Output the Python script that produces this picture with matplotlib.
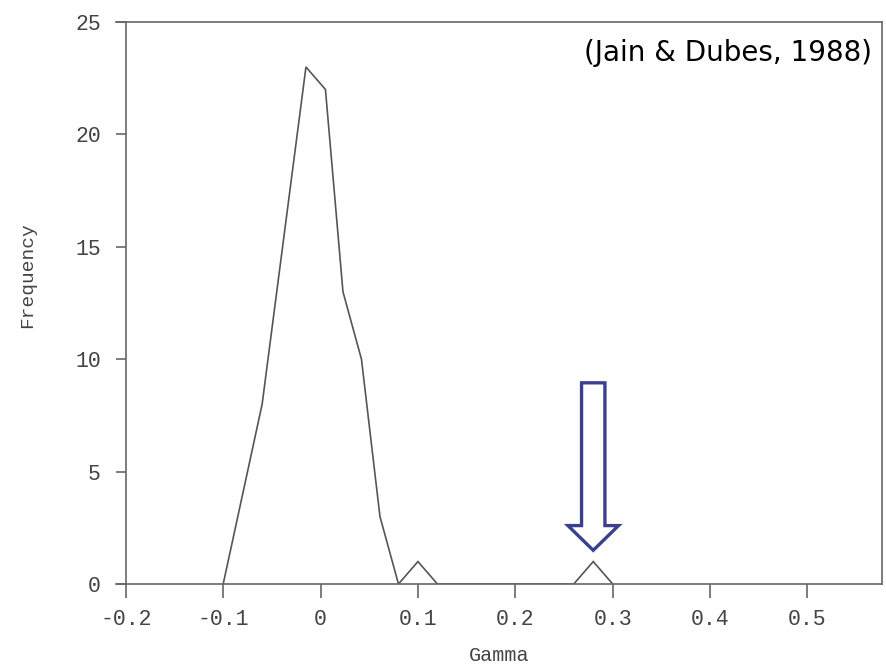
import matplotlib.pyplot as plt
import matplotlib.patches as mpatches

# Frequency polygon of the Gamma statistic
gamma = [-0.10, -0.06, -0.015, 0.005, 0.023, 0.042, 0.061, 0.08, 0.10, 0.12, 0.26, 0.28, 0.30]
freq = [0, 8, 23, 22, 13, 10, 3, 0, 1, 0, 0, 1, 0]

x_ticks = [-0.2, -0.1, 0, 0.1, 0.2, 0.3, 0.4, 0.5]
x_tick_labels = ['-0.2', '-0.1', '0', '0.1', '0.2', '0.3', '0.4', '0.5']
y_ticks = [0, 5, 10, 15, 20, 25]

citation = '(Jain & Dubes, 1988)'
marked_index = 11  # the isolated value the arrow points at

mono = 'Liberation Mono'
ink = '#444444'

fig = plt.figure(figsize=(8.86, 6.67), dpi=100)
ax = fig.add_axes([0.131, 0.1244, 0.865, 0.8426])

ax.plot(gamma, freq, color='#555555', lw=1.2, solid_joinstyle='miter')

ax.set_xlim(-0.21, 0.577)
ax.set_ylim(0, 25)
ax.spines['left'].set_position(('data', -0.2))
for side in ['left', 'right', 'top', 'bottom']:
    ax.spines[side].set_color('#666666')
    ax.spines[side].set_linewidth(1.2)

ax.set_xticks(x_ticks)
ax.set_xticklabels(x_tick_labels, fontfamily=mono, fontsize=15.5, color=ink)
ax.set_yticks(y_ticks)
ax.set_yticklabels([str(v) for v in y_ticks], fontfamily=mono, fontsize=15.5, color=ink)
ax.tick_params(axis='x', direction='out', length=10, width=1.2, color='#666666', pad=8)
ax.tick_params(axis='y', direction='out', length=7, width=1.2, color='#666666', pad=11)

ax.set_xlabel('Gamma', fontfamily=mono, fontsize=14.5, color=ink)
ax.xaxis.set_label_coords(0.5, -0.11)
ax.set_ylabel('Frequency', fontfamily=mono, fontsize=14, color=ink)
ax.yaxis.set_label_coords(-0.104, 0.55)

ax.text(0.987, 0.945, citation, transform=ax.transAxes, ha='right', va='center',
        fontsize=20, fontfamily='DejaVu Sans', color='black')

# hollow arrow pointing down at the isolated peak
tip_x = gamma[marked_index]
tip_y = freq[marked_index] + 0.5
top_y = 8.95
arrow = mpatches.FancyArrow(tip_x, top_y, 0, tip_y - top_y, width=0.024,
                            head_width=0.052, head_length=1.1,
                            length_includes_head=True, facecolor='white',
                            edgecolor='#3b3f8f', lw=2.4, joinstyle='miter',
                            clip_on=False, zorder=5)
ax.add_patch(arrow)

fig.savefig('out.png', dpi=100)
